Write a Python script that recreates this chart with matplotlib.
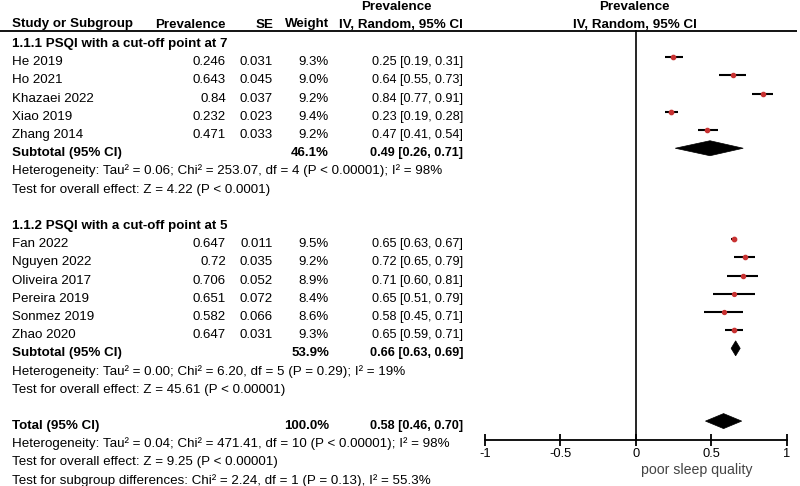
import matplotlib
matplotlib.use("Agg")
import matplotlib.pyplot as plt
from matplotlib.patches import Polygon

plt.rcParams['font.family'] = ['Liberation Sans', 'DejaVu Sans']

# ---------------- data ----------------
group1_title = "1.1.1 PSQI with a cut-off point at 7"
studies1 = ["He 2019", "Ho 2021", "Khazaei 2022", "Xiao 2019", "Zhang 2014"]
prev1 = [0.246, 0.643, 0.84, 0.232, 0.471]
se1 = [0.031, 0.045, 0.037, 0.023, 0.033]
weight1 = [9.3, 9.0, 9.2, 9.4, 9.2]
est1 = [0.25, 0.64, 0.84, 0.23, 0.47]
lo1 = [0.19, 0.55, 0.77, 0.19, 0.41]
hi1 = [0.31, 0.73, 0.91, 0.28, 0.54]
sub1 = [0.49, 0.26, 0.71]
sub1_weight = 46.1
het1 = "Heterogeneity: Tau\u00b2 = 0.06; Chi\u00b2 = 253.07, df = 4 (P < 0.00001); I\u00b2 = 98%"
test1 = "Test for overall effect: Z = 4.22 (P < 0.0001)"

group2_title = "1.1.2 PSQI with a cut-off point at 5"
studies2 = ["Fan 2022", "Nguyen 2022", "Oliveira 2017", "Pereira 2019", "Sonmez 2019", "Zhao 2020"]
prev2 = [0.647, 0.72, 0.706, 0.651, 0.582, 0.647]
se2 = [0.011, 0.035, 0.052, 0.072, 0.066, 0.031]
weight2 = [9.5, 9.2, 8.9, 8.4, 8.6, 9.3]
est2 = [0.65, 0.72, 0.71, 0.65, 0.58, 0.65]
lo2 = [0.63, 0.65, 0.60, 0.51, 0.45, 0.59]
hi2 = [0.67, 0.79, 0.81, 0.79, 0.71, 0.71]
sub2 = [0.66, 0.63, 0.69]
sub2_weight = 53.9
het2 = "Heterogeneity: Tau\u00b2 = 0.00; Chi\u00b2 = 6.20, df = 5 (P = 0.29); I\u00b2 = 19%"
test2 = "Test for overall effect: Z = 45.61 (P < 0.00001)"

total = [0.58, 0.46, 0.70]
total_weight = 100.0
het_t = "Heterogeneity: Tau\u00b2 = 0.04; Chi\u00b2 = 471.41, df = 10 (P < 0.00001); I\u00b2 = 98%"
test_t = "Test for overall effect: Z = 9.25 (P < 0.00001)"
test_sub = "Test for subgroup differences: Chi\u00b2 = 2.24, df = 1 (P = 0.13), I\u00b2 = 55.3%"

xticks = [-1, -0.5, 0, 0.5, 1]
xticklabels = ["-1", "-0.5", "0", "0.5", "1"]
right_label = "poor sleep quality"

# ---------------- layout ----------------
W, H = 800, 486
fig = plt.figure(figsize=(W / 100, H / 100), dpi=100)
ax_t = fig.add_axes([0, 0, 1, 1])
ax_t.set_xlim(0, W)
ax_t.set_ylim(H, 0)
ax_t.axis('off')

fx0, fx1 = 485, 787
ax_f = fig.add_axes([fx0 / W, 0, (fx1 - fx0) / W, 1])
ax_f.set_xlim(-1, 1)
ax_f.set_ylim(H, 0)
ax_f.patch.set_alpha(0)

y0, dy = 39.1, 18.19
def row(i):
    return y0 + dy * i

FS_T = 9.6   # words
FS_N = 9.5   # numeric columns
FS_C = 9.1   # CI column
TXT = dict(fontsize=FS_T, va='baseline', color='black')
BOLD = dict(fontsize=FS_T, va='baseline', color='black', fontweight='bold')
NUM = dict(fontsize=FS_N, va='baseline', color='black')
CI = dict(fontsize=FS_C, va='baseline', color='black')
NUMB = dict(fontsize=FS_N, va='baseline', color='black', fontweight='bold')
CIB = dict(fontsize=FS_C, va='baseline', color='black', fontweight='bold')
toff = 8.0

col_name, col_prev, col_se, col_w, col_ci = 12, 226, 273, 329, 463

# header
hy = 27.5
ax_t.text(col_name, hy, "Study or Subgroup", ha='left', **BOLD)
ax_t.text(col_prev, hy, "Prevalence", ha='right', **BOLD)
ax_t.text(col_se, hy, "SE", ha='right', **BOLD)
ax_t.text(col_w, hy, "Weight", ha='right', **BOLD)
ax_t.text(col_ci, hy, "IV, Random, 95% CI", ha='right', **BOLD)
ax_t.text(396, 10, "Prevalence", ha='center', **BOLD)
ax_t.text(634, 10, "Prevalence", ha='center', **BOLD)
ax_t.text(635, hy, "IV, Random, 95% CI", ha='center', **BOLD)
ax_t.plot([0, 797], [31, 31], color='black', lw=1.3, solid_capstyle='butt')

red = '#c83232'

def diamond(vals, r, hh=7.5):
    c, l, h = vals
    ax_f.add_patch(Polygon([[l, r], [c, r - hh], [h, r], [c, r + hh]], closed=True,
                           facecolor='black', edgecolor='black', lw=0.5, zorder=3))

def draw_group(start, title, studies, prev, se, weight, est, lo, hi, sub, subw, het, test):
    ax_t.text(col_name, row(start) + toff, title, ha='left', **BOLD)
    for k, name in enumerate(studies):
        r = row(start + 1 + k)
        yt = r + toff
        ax_t.text(col_name, yt, name, ha='left', **TXT)
        ax_t.text(col_prev, yt, f"{prev[k]:g}", ha='right', **NUM)
        ax_t.text(col_se, yt, f"{se[k]:.3f}", ha='right', **NUM)
        ax_t.text(col_w, yt, f"{weight[k]:.1f}%", ha='right', **NUM)
        ax_t.text(col_ci, yt, f"{est[k]:.2f} [{lo[k]:.2f}, {hi[k]:.2f}]", ha='right', **CI)
        ax_f.plot([lo[k], hi[k]], [r, r], color='black', lw=1.5, solid_capstyle='butt', zorder=2)
        ax_f.plot([prev[k]], [r], marker='o', ms=weight[k] * 0.33, color=red, mec=red, zorder=3)
    rs = row(start + 1 + len(studies))
    ax_t.text(col_name, rs + toff, "Subtotal (95% CI)", ha='left', **BOLD)
    ax_t.text(col_w, rs + toff, f"{subw:.1f}%", ha='right', **NUMB)
    ax_t.text(col_ci, rs + toff, f"{sub[0]:.2f} [{sub[1]:.2f}, {sub[2]:.2f}]", ha='right', **CIB)
    diamond(sub, rs)
    ax_t.text(col_name, row(start + 2 + len(studies)) + toff, het, ha='left', **TXT)
    ax_t.text(col_name, row(start + 3 + len(studies)) + toff, test, ha='left', **TXT)

draw_group(0, group1_title, studies1, prev1, se1, weight1, est1, lo1, hi1, sub1, sub1_weight, het1, test1)
draw_group(10, group2_title, studies2, prev2, se2, weight2, est2, lo2, hi2, sub2, sub2_weight, het2, test2)

rt = row(21)
ax_t.text(col_name, rt + toff, "Total (95% CI)", ha='left', **BOLD)
ax_t.text(col_w, rt + toff, f"{total_weight:.1f}%", ha='right', **NUMB)
ax_t.text(col_ci, rt + toff, f"{total[0]:.2f} [{total[1]:.2f}, {total[2]:.2f}]", ha='right', **CIB)
diamond(total, rt)
ax_t.text(col_name, row(22) + toff, het_t, ha='left', **TXT)
ax_t.text(col_name, row(23) + toff, test_t, ha='left', **TXT)
ax_t.text(col_name, row(24) + toff, test_sub, ha='left', **TXT)

# forest axis
axis_y = 440
ax_f.plot([0, 0], [31, axis_y], color='black', lw=1.2, zorder=1)
for s in ['top', 'left', 'right']:
    ax_f.spines[s].set_visible(False)
ax_f.spines['bottom'].set_position(('data', axis_y))
ax_f.spines['bottom'].set_linewidth(1.3)
ax_f.set_xticks(xticks)
ax_f.set_xticklabels(xticklabels, fontsize=9.3)
ax_f.tick_params(axis='x', direction='inout', length=8, width=1.3, pad=1.5)
ax_f.set_yticks([])
ax_f.text(0.40, 474, right_label, ha='center', va='baseline', fontsize=FS_T + 0.6, color='#444444')

fig.savefig("out.png", dpi=100, facecolor='white')
